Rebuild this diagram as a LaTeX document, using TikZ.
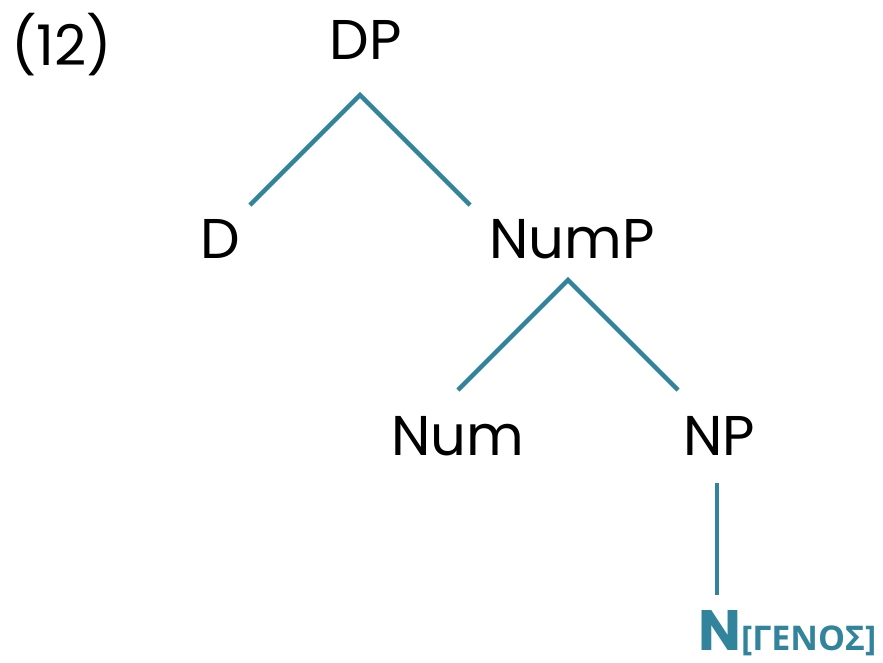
\documentclass[tikz,border=0pt]{standalone}
\usepackage{fontspec}
\setmainfont{Poppins}
\newfontfamily\greekfont{Open Sans}
\definecolor{teal1}{HTML}{31849B}
\begin{document}
\begin{tikzpicture}[x=1pt,y=-1pt,
  lbl/.style={inner sep=0pt,anchor=base,font=\fontsize{56}{60}\selectfont},
  br/.style={draw=teal1,line width=4.4pt}]
\useasboundingbox (0,0) rectangle (883,662);
\node[lbl,anchor=base west] (ex) at (11,65) {(12)};
\node[lbl] (dp) at (366,59) {DP};
\node[lbl] (d) at (220,258) {D};
\node[lbl] (nump) at (572,258) {NumP};
\node[lbl] (num) at (458,455) {Num};
\node[lbl] (np) at (719,455) {NP};
\node[inner sep=0pt,anchor=base west,text=teal1] (n) at (698,650)
  {\fontsize{57}{60}\selectfont\bfseries N\greekfont\fontsize{34}{36}\selectfont\bfseries[ΓΕΝΟΣ]};
\coordinate (a1) at (360,95);
\coordinate (a2) at (568,280);
\coordinate (e1) at (250,205);
\coordinate (e2) at (470,205);
\coordinate (e3) at (458,390);
\coordinate (e4) at (678,390);
\coordinate (t1) at (717,483);
\coordinate (t2) at (717,595);
\draw[br] (e1) -- (a1) -- (e2);
\draw[br] (e3) -- (a2) -- (e4);
\draw[br] (t1) -- (t2);
\end{tikzpicture}
\end{document}
